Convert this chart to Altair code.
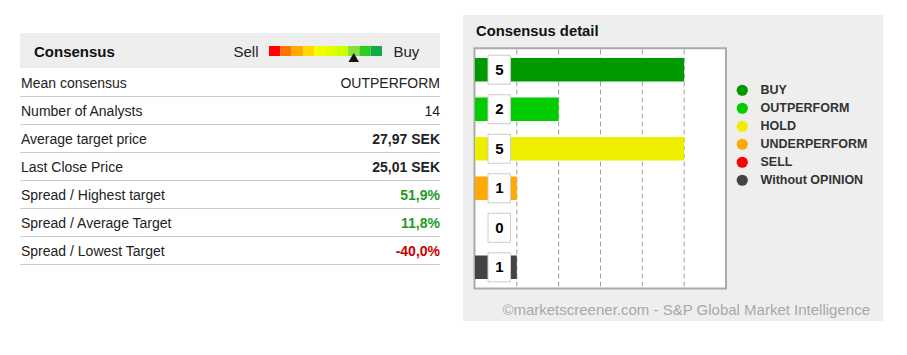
import altair as alt
import pandas as pd

FONT = "Liberation Sans, Arial, sans-serif"

# ---------------- data ----------------
row_labels = ["Mean consensus", "Number of Analysts", "Average target price", "Last Close Price",
              "Spread / Highest target", "Spread / Average Target", "Spread / Lowest Target"]
row_values = ["OUTPERFORM", "14", "27,97 SEK", "25,01 SEK", "51,9%", "11,8%", "-40,0%"]
row_bold = [False, False, True, True, True, True, True]
row_colors = ["#222222", "#222222", "#222222", "#222222", "#1f9a1f", "#1f9a1f", "#cc0000"]

strip_colors = ["#ff0000", "#ff7300", "#ffaa00", "#ffd800", "#f2ff00",
                "#e2ff00", "#ccff00", "#88e040", "#2ecc22", "#11aa44"]
selected_index = 7

categories = ["BUY", "OUTPERFORM", "HOLD", "UNDERPERFORM", "SELL", "Without OPINION"]
counts = [5, 2, 5, 1, 0, 1]
cat_colors = ["#009900", "#00cc00", "#eeee00", "#ffaa00", "#ff0000", "#444444"]
grid_values = [1, 2, 3, 4, 5]

table_df = pd.DataFrame({"i": list(range(len(row_labels))), "label": row_labels,
                         "value": row_values, "bold": row_bold, "color": row_colors})
strip_df = pd.DataFrame({"idx": list(range(len(strip_colors))), "c": strip_colors})
bars_df = pd.DataFrame({"cat": categories, "n": counts})
grid_df = pd.DataFrame({"g": grid_values})
one = pd.DataFrame({"k": [0]})

# ---------------- decorations ----------------
panel = alt.Chart(one).mark_rect(color="#eeeeee").encode(
    x=alt.value(463), x2=alt.value(883), y=alt.value(15), y2=alt.value(321))
header_band = alt.Chart(one).mark_rect(color="#eeeeee").encode(
    x=alt.value(20), x2=alt.value(440), y=alt.value(33), y2=alt.value(68))

def label(txt, x, y, size, weight="normal", color="#222222", align="left"):
    return alt.Chart(one).mark_text(text=txt, font=FONT, fontSize=size, fontWeight=weight,
                                    color=color, align=align, baseline="alphabetic").encode(
        x=alt.value(x), y=alt.value(y))

consensus_t = label("Consensus", 34, 56.5, 15, "bold", "#111111")
sell_t = label("Sell", 233.5, 56.5, 15, "normal", "#222222")
buy_t = label("Buy", 393.5, 56.5, 15, "normal", "#222222")
title_t = label("Consensus detail", 476, 35.5, 14.8, "bold", "#111111")
footer_t = label("©marketscreener.com - S&P Global Market Intelligence", 870, 315,
                 15, "normal", "#a8a8a8", "right")

# ---------------- consensus strip ----------------
strip_x = alt.Scale(domain=list(range(len(strip_colors))), range=[269, 382],
                    paddingInner=0, paddingOuter=0)
strip = alt.Chart(strip_df).mark_rect().encode(
    x=alt.X("idx:O", scale=strip_x, axis=None),
    y=alt.value(46), y2=alt.value(56),
    color=alt.Color("c:N", scale=None))
marker = alt.Chart(strip_df).transform_filter(
    alt.datum.idx == selected_index).mark_point(
    shape="triangle-up", filled=True, color="#111111", size=110, opacity=1).encode(
    x=alt.X("idx:O", scale=strip_x, axis=None), y=alt.value(57.5))
strip_group = alt.layer(strip, marker)

# ---------------- table ----------------
n_rows = len(row_labels)
text_y = alt.Scale(domain=[0, n_rows - 1], range=[88.3, 88.3 + 28 * (n_rows - 1)],
                   zero=False, nice=False)
rule_y = alt.Scale(domain=[0, n_rows - 1], range=[96.5, 96.5 + 28 * (n_rows - 1)],
                   zero=False, nice=False)

rules = alt.Chart(table_df).mark_rule(color="#cccccc", strokeWidth=1).encode(
    x=alt.value(20), x2=alt.value(440),
    y=alt.Y("i:Q", scale=rule_y, axis=None))
left_txt = alt.Chart(table_df).mark_text(font=FONT, fontSize=14, align="left",
                                         baseline="alphabetic", color="#222222").encode(
    x=alt.value(21), y=alt.Y("i:Q", scale=text_y, axis=None), text="label:N")
val_norm = alt.Chart(table_df).transform_filter("!datum.bold").mark_text(
    font=FONT, fontSize=14, align="right", baseline="alphabetic").encode(
    x=alt.value(440), y=alt.Y("i:Q", scale=text_y, axis=None), text="value:N",
    color=alt.Color("color:N", scale=None))
val_bold = alt.Chart(table_df).transform_filter("datum.bold").mark_text(
    font=FONT, fontSize=14, fontWeight="bold", align="right", baseline="alphabetic").encode(
    x=alt.value(440), y=alt.Y("i:Q", scale=text_y, axis=None), text="value:N",
    color=alt.Color("color:N", scale=None))
table_group = alt.layer(left_txt, val_norm, val_bold)

# ---------------- bar chart ----------------
bx = alt.Scale(domain=[0, 6], range=[475, 726])
by = alt.Scale(domain=categories, range=[49.3, 287.7], paddingInner=0.406, paddingOuter=0.22)

frame = alt.Chart(one).mark_rect(fill="white", stroke="#aaaaaa", strokeWidth=2).encode(
    x=alt.value(474.5), x2=alt.value(726), y=alt.value(48.3), y2=alt.value(288.5))
grid = alt.Chart(grid_df).mark_rule(color="#a0a0a0", strokeWidth=1, strokeDash=[5, 3]).encode(
    x=alt.X("g:Q", scale=bx, axis=None), y=alt.value(49.5), y2=alt.value(287.5))
bars = alt.Chart(bars_df).mark_bar().encode(
    x=alt.X("n:Q", scale=bx, axis=None),
    y=alt.Y("cat:N", scale=by, axis=None, sort=categories),
    color=alt.Color("cat:N", scale=alt.Scale(domain=categories, range=cat_colors),
                    legend=alt.Legend(orient="none", legendX=736, legendY=84, title=None,
                                      symbolType="circle", symbolSize=125,
                                      symbolStrokeWidth=0, symbolOpacity=1,
                                      labelFont=FONT, labelFontSize=12.5,
                                      labelFontWeight="bold", labelColor="#333333",
                                      labelOffset=12, rowPadding=5, padding=0,
                                      labelLimit=300)))
boxes = alt.Chart(bars_df).mark_bar(height=29, fill="white", stroke="#cccccc",
                                    strokeWidth=1).encode(
    x=alt.value(488), x2=alt.value(510.5),
    y=alt.Y("cat:N", scale=by, axis=None, sort=categories))
nums = alt.Chart(bars_df).mark_text(font=FONT, fontSize=15, fontWeight="bold",
                                    color="#000000", align="center", baseline="middle").encode(
    x=alt.value(499.5), y=alt.Y("cat:N", scale=by, axis=None, sort=categories),
    text="n:Q")
bar_group = alt.layer(frame, grid, bars, boxes, nums)

chart = alt.layer(
    panel, header_band, consensus_t, sell_t, buy_t, title_t, footer_t,
    strip_group, rules, table_group, bar_group
).resolve_scale(x="independent", y="independent", color="independent").properties(
    width=907, height=355, padding=0, autosize=alt.AutoSizeParams(type="none"),
    background="white"
).configure_view(stroke=None)

chart.save("out.html", embed_options={"renderer": "svg", "actions": False})
